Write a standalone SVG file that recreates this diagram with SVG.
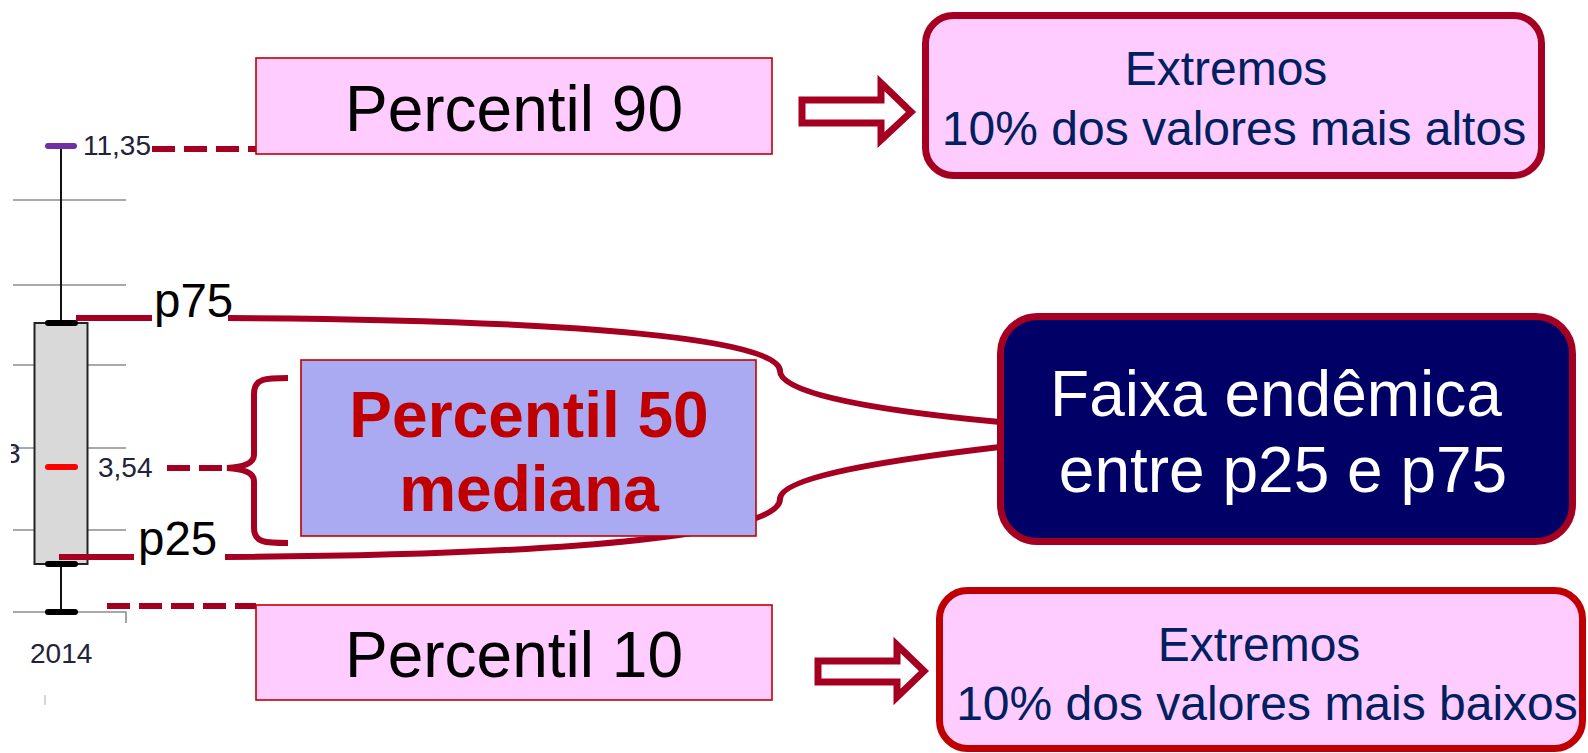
<svg xmlns="http://www.w3.org/2000/svg" width="1588" height="753" viewBox="0 0 1588 753">
<style>
.grid{stroke:#8c8c8c;stroke-width:1.6;fill:none}
.conn{stroke:#A50021;stroke-width:6;fill:none}
.dash{stroke:#A50021;stroke-width:6;fill:none;stroke-dasharray:23 9}
.pbox{fill:#FFCCFF;stroke:#C00000;stroke-width:1.6}
.big{font-family:"Liberation Sans",Arial,sans-serif;font-size:64px;fill:#000;text-anchor:middle}
.ext{font-family:"Liberation Sans",Arial,sans-serif;font-size:48px;fill:#002060;text-anchor:middle}
.val{font-family:"Liberation Sans",Arial,sans-serif;font-size:28px;fill:#22223a}
.pl{font-family:"Liberation Sans",Arial,sans-serif;font-size:47.5px;fill:#000}
.arrow{fill:#fff;stroke:#A50021;stroke-width:7;stroke-linejoin:miter}
</style>
<defs>
<clipPath id="cut"><rect x="11" y="430" width="30" height="60"/></clipPath>
</defs>
<g id="boxplot">
<line class="grid" x1="13" y1="200" x2="126" y2="200"/>
<line class="grid" x1="13" y1="285" x2="126" y2="285"/>
<line class="grid" x1="13" y1="365" x2="126" y2="365"/>
<line class="grid" x1="13" y1="448" x2="126" y2="448"/>
<line class="grid" x1="13" y1="530" x2="126" y2="530"/>
<polyline class="grid" points="13,612 126,612 126,623"/>
<line x1="45" y1="695" x2="45" y2="705" stroke="#c8c8d8" stroke-width="1.5"/>
<line x1="61" y1="146" x2="61" y2="612" stroke="#111" stroke-width="2"/>
<rect x="34.5" y="323" width="53" height="241" fill="#D9D9D9" stroke="#222" stroke-width="2"/>
<line x1="48" y1="323" x2="75" y2="323" stroke="#000" stroke-width="6" stroke-linecap="round"/>
<line x1="48" y1="564" x2="75" y2="564" stroke="#000" stroke-width="6" stroke-linecap="round"/>
<line x1="48" y1="612" x2="75" y2="612" stroke="#000" stroke-width="6" stroke-linecap="round"/>
<line x1="48" y1="146" x2="74" y2="146" stroke="#7030A0" stroke-width="6" stroke-linecap="round"/>
<line x1="48" y1="467" x2="75" y2="467" stroke="#FF0000" stroke-width="6" stroke-linecap="round"/>
<text class="val" x="83" y="155">11,35</text>
<text class="val" x="98" y="477">3,54</text>
<text class="val" x="30" y="663">2014</text>
<text class="val" x="5" y="463" clip-path="url(#cut)">3</text>
</g>
<g id="connectors">
<line class="dash" x1="152" y1="149" x2="256" y2="149"/>
<line class="dash" x1="167" y1="468" x2="228" y2="468"/>
<line class="dash" x1="107" y1="606" x2="256" y2="606"/>
<line class="conn" x1="76" y1="318" x2="152" y2="318"/>
<line class="conn" x1="59" y1="557" x2="134" y2="557"/>
<path class="conn" d="M228,318 C589,320 780,340 780,371 C780,398 914,414 1000,422"/>
<path class="conn" d="M225,557 C589,555 780,533 780,499 C780,475 914,457 1000,447"/>
<path class="conn" d="M288,378 C266,378 254,378 254,394 L254,455 C254,463 244,467 227,468 C244,469 254,473 254,481 L254,528 C254,543 266,543 288,543"/>
<path class="arrow" d="M802,100 L881,100 L881,83 L911,112 L881,140 L881,123 L802,123 Z"/>
<path class="arrow" d="M818,661 L897,661 L897,645 L924,671 L897,697 L897,682 L818,682 Z"/>
</g>
<g id="p75label"><text class="pl" x="154" y="317">p75</text></g>
<g id="p25label"><text class="pl" x="138" y="555">p25</text></g>
<g id="p90">
<rect class="pbox" x="256" y="58" width="516" height="96"/>
<text class="big" x="514" y="131">Percentil 90</text>
</g>
<g id="p10">
<rect class="pbox" x="256" y="605" width="516" height="95"/>
<text class="big" x="514" y="677">Percentil 10</text>
</g>
<g id="p50">
<rect x="301" y="360" width="455" height="176" fill="#AAAAF3" stroke="#C00000" stroke-width="1.6"/>
<text class="big" x="529" y="437" style="font-weight:bold;fill:#C00000">Percentil 50</text>
<text class="big" x="529" y="511" style="font-weight:bold;fill:#C00000">mediana</text>
</g>
<g id="extremos-altos">
<rect x="925.5" y="15.5" width="616" height="160" rx="28" fill="#FFCCFF" stroke="#A50021" stroke-width="7"/>
<text class="ext" x="1226" y="85">Extremos</text>
<text class="ext" x="1234" y="145">10% dos valores mais altos</text>
</g>
<g id="extremos-baixos">
<rect x="939.5" y="590.5" width="643" height="158" rx="28" fill="#FFCCFF" stroke="#C00000" stroke-width="7"/>
<text class="ext" x="1259" y="661">Extremos</text>
<text class="ext" x="1267" y="720">10% dos valores mais baixos</text>
</g>
<g id="faixa">
<rect x="1000.5" y="316.5" width="572" height="225" rx="37" fill="#000066" stroke="#A50021" stroke-width="7"/>
<text class="big" x="1276" y="416" style="fill:#fff">Faixa endêmica</text>
<text class="big" x="1283" y="492" style="fill:#fff">entre p25 e p75</text>
</g>
</svg>
